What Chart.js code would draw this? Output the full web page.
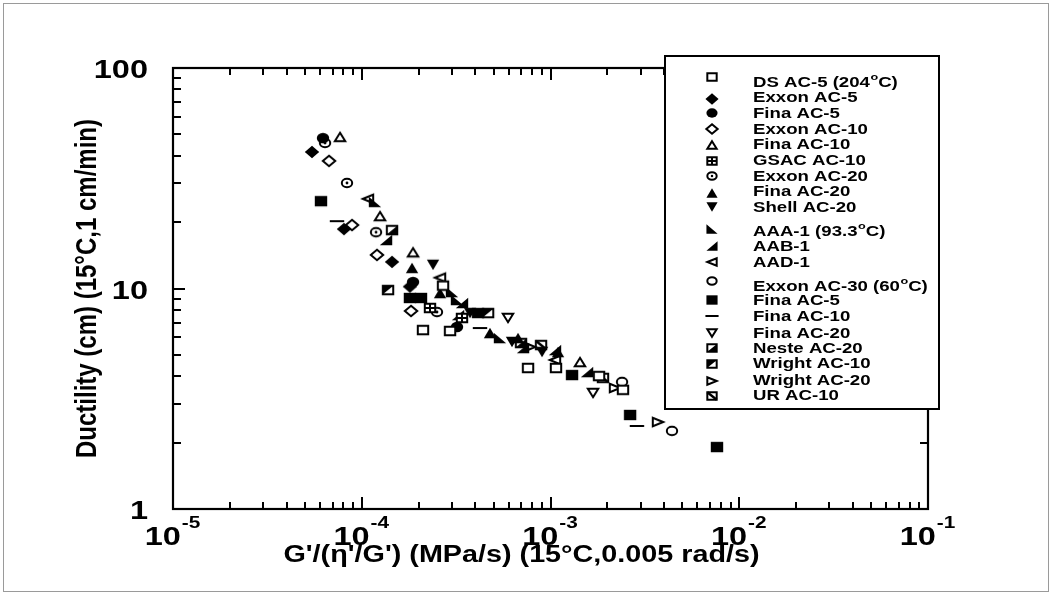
<!DOCTYPE html>
<html>
<head>
<meta charset="utf-8">
<script src="https://cdn.jsdelivr.net/npm/chart.js@4.4.1/dist/chart.umd.min.js"></script>
<style>
  html, body { margin: 0; padding: 0; background: #fff; }
  canvas { display: block; }
</style>
</head>
<body>
<canvas id="chart" width="1052" height="595"></canvas>
<script>
// Ductility vs. G'/(eta'/G') for aged binders, one array of [x, y] pairs per binder
const dsAC5      = [[2.695e-4,10.3],[2.11e-4,6.48],[2.935e-4,6.42],[7.6e-4,4.36],[1.069e-3,4.36],[1.807e-3,4.01],[2.42e-3,3.47]];
const exxonAC5   = [[5.45e-5,41.6],[8.05e-5,18.6],[1.447e-4,13.2],[1.80e-4,10.2]];
const finaAC5    = [[6.23e-5,48.1],[1.869e-4,10.7],[3.196e-4,6.69]];
const exxonAC10  = [[6.71e-5,37.9],[8.88e-5,19.4],[1.204e-4,14.2],[1.824e-4,7.91]];
const finaAC10   = [[7.67e-5,48.7],[1.25e-4,21.3],[1.869e-4,14.6],[1.433e-3,4.64]];
const gsacAC10   = [[2.299e-4,8.16],[3.397e-4,7.35]];
const exxonAC20  = [[6.39e-5,45.7],[8.35e-5,30.1],[1.19e-4,18.0],[2.504e-4,7.82]];
const finaAC20   = [[1.846e-4,12.4],[2.598e-4,9.54],[4.78e-4,6.28],[6.73e-4,5.96],[1.096e-3,5.15]];
const shellAC20  = [[2.385e-4,12.8],[3.746e-4,7.74],[6.25e-4,5.72],[9.02e-4,5.15]];
const aaa1       = [[1.175e-4,24.7],[3.007e-4,9.64],[3.196e-4,8.87],[5.40e-4,5.96]];
const aab1       = [[1.345e-4,16.6],[3.397e-4,8.60],[3.236e-4,7.58],[7.15e-4,5.37],[1.056e-3,5.26],[1.561e-3,4.18]];
const aad1       = [[1.079e-4,25.5],[2.598e-4,11.2],[1.056e-3,4.74]];
const exxonAC30  = [[2.393e-3,3.77],[4.40e-3,2.26]];
const finaAC5b   = [[6.08e-5,24.9],[1.80e-4,9.06],[2.06e-4,9.06],[4.13e-4,7.74],[1.30e-3,4.05],[2.64e-3,2.67],[7.62e-3,1.91]];
const finaAC10b  = [[7.39e-5,20.2],[4.23e-4,6.62],[2.87e-3,2.38]];
const finaAC20b  = [[5.95e-4,7.35],[1.68e-3,3.36]];
const nesteAC20  = [[1.447e-4,18.4],[6.98e-4,5.66]];
const wrightAC10 = [[1.378e-4,9.84],[4.67e-4,7.74]];
const wrightAC20 = [[7.79e-4,5.43],[2.196e-3,3.54],[3.71e-3,2.48]];
const urAC10     = [[8.91e-4,5.54],[1.897e-3,3.93]];

const seriesNames = ['DS AC-5 (204°C)','Exxon AC-5','Fina AC-5','Exxon AC-10','Fina AC-10','GSAC AC-10',
  'Exxon AC-20','Fina AC-20','Shell AC-20','AAA-1 (93.3°C)','AAB-1','AAD-1','Exxon AC-30 (60°C)',
  'Fina AC-5','Fina AC-10','Fina AC-20','Neste AC-20','Wright AC-10','Wright AC-20','UR AC-10'];
const seriesData = [dsAC5, exxonAC5, finaAC5, exxonAC10, finaAC10, gsacAC10, exxonAC20, finaAC20, shellAC20,
  aaa1, aab1, aad1, exxonAC30, finaAC5b, finaAC10b, finaAC20b, nesteAC20, wrightAC10, wrightAC20, urAC10];

// axis range and labelled decades
const xMin = 1e-5, xMax = 1e-1, yMin = 1, yMax = 100;
const xTickExponents = ['-5','-4','-3','-2','-1'];
const xTickValues = [1e-5, 1e-4, 1e-3, 1e-2, 1e-1];
const yTickLabels = ['1','10','100'];
const yTickValues = [1, 10, 100];

const xTitle = "G'/(\u03b7'/G') (MPa/s) (15°C,0.005 rad/s)";
const yTitle = 'Ductility (cm) (15°C,1 cm/min)';

// ---- marker glyphs ----
const markerKinds = ['sqOpen','diaFill','cirFill','diaOpen','triUpOpen','sqGrid','cirDot','triUpFill','triDnFill',
  'cornerBL','cornerBR','triLOpen','cirOpen','sqFill','dash','triDnOpen','sqHalfBR','sqHalfTL','triROpen','sqSlash'];

function drawMarker(g, kind, cx, cy, k) {
  const A = 6.2 * k, B = 5.2 * k;   // filled marks
  const a = 5.2 * k, b = 4.2 * k;   // outlined marks (2px stroke)
  g.save();
  g.lineWidth = 2; g.strokeStyle = '#000'; g.fillStyle = '#000'; g.lineJoin = 'miter';
  const poly = pts => { g.beginPath(); pts.forEach((p, i) => i ? g.lineTo(cx + p[0], cy + p[1]) : g.moveTo(cx + p[0], cy + p[1])); g.closePath(); };
  const openFill = () => { g.fillStyle = '#fff'; g.fill(); g.stroke(); g.fillStyle = '#000'; };
  const openSq = () => { poly([[-a,-b],[a,-b],[a,b],[-a,b]]); openFill(); };
  switch (kind) {
    case 'sqOpen': openSq(); break;
    case 'sqFill': g.fillRect(cx - A, cy - B, 2 * A, 2 * B); break;
    case 'diaFill': poly([[0,-B-1],[A+1,0],[0,B+1],[-A-1,0]]); g.fill(); break;
    case 'diaOpen': poly([[0,-b-1],[a+1,0],[0,b+1],[-a-1,0]]); openFill(); break;
    case 'cirFill': g.beginPath(); g.ellipse(cx, cy, A, B, 0, 0, Math.PI * 2); g.fill(); break;
    case 'cirOpen': g.beginPath(); g.ellipse(cx, cy, a, b, 0, 0, Math.PI * 2); openFill(); break;
    case 'cirDot':
      g.beginPath(); g.ellipse(cx, cy, a, b, 0, 0, Math.PI * 2); openFill();
      g.beginPath(); g.arc(cx, cy, 1.4 * k, 0, Math.PI * 2); g.fill(); break;
    case 'triUpFill': poly([[0,-B],[A,B],[-A,B]]); g.fill(); break;
    case 'triUpOpen': poly([[0,-b],[a,b],[-a,b]]); openFill(); break;
    case 'triDnFill': poly([[0,B],[A,-B],[-A,-B]]); g.fill(); break;
    case 'triDnOpen': poly([[0,b],[a,-b],[-a,-b]]); openFill(); break;
    case 'triLOpen': poly([[-a,0],[a,-b],[a,b]]); openFill(); break;
    case 'triROpen': poly([[a,0],[-a,-b],[-a,b]]); openFill(); break;
    case 'cornerBL': poly([[-A,-B],[-A,B],[A,B]]); g.fill(); break;
    case 'cornerBR': poly([[-A,B],[A,B],[A,-B]]); g.fill(); break;
    case 'sqGrid':
      openSq(); g.beginPath(); g.moveTo(cx - a, cy); g.lineTo(cx + a, cy); g.moveTo(cx, cy - b); g.lineTo(cx, cy + b); g.stroke(); break;
    case 'sqHalfBR': openSq(); poly([[-a,b],[a,b],[a,-b]]); g.fill(); break;
    case 'sqHalfTL': openSq(); poly([[-a,-b],[a,-b],[-a,b]]); g.fill(); break;
    case 'sqSlash':
      openSq(); g.beginPath(); g.moveTo(cx - a, cy - b); g.lineTo(cx + a, cy + b); g.lineWidth = 2.4; g.stroke(); break;
    case 'dash':
      g.beginPath(); g.moveTo(cx - A - 1, cy); g.lineTo(cx + A + 1, cy); g.stroke(); break;
  }
  g.restore();
}

function markerCanvas(kind) {
  const c = document.createElement('canvas');
  c.width = 18; c.height = 16;
  drawMarker(c.getContext('2d'), kind, 9, 8, 1);
  return c;
}

// ---- text helpers (the lettering is set wide) ----
const FONT = '"Liberation Sans", Arial, Helvetica, sans-serif';
function wideText(ctx, str, x, y, size, sx, align) {
  ctx.save();
  ctx.font = 'bold ' + size + 'px ' + FONT;
  ctx.textBaseline = 'middle';
  ctx.textAlign = 'left';
  const w = ctx.measureText(str).width * sx;
  let x0 = x;
  if (align === 'center') x0 = x - w / 2; else if (align === 'right') x0 = x - w;
  ctx.translate(x0, y); ctx.scale(sx, 1);
  ctx.fillText(str, 0, 0);
  ctx.restore();
  return w;
}
// label whose degree sign is set as a raised small "o"
function degreeText(ctx, str, x, y, size, sx) {
  const parts = str.split('°');
  let cx = x;
  parts.forEach((p, i) => {
    if (i > 0) cx += wideText(ctx, 'o', cx + 0.5, y - size * 0.42, size * 0.68, sx, 'left') + 0.5;
    cx += wideText(ctx, p, cx, y, size, sx, 'left');
  });
}

// ---- axes frame, inward ticks, tick labels, titles and key ----
const framePlugin = {
  id: 'frame',
  afterDatasetsDraw(chart) {
    const { ctx, chartArea: ca, scales: { x, y } } = chart;
    ctx.save();
    // thin outer border of the figure
    ctx.strokeStyle = '#9a9a9a'; ctx.lineWidth = 1;
    ctx.strokeRect(3.5, 3.5, chart.width - 7, chart.height - 7);

    ctx.strokeStyle = '#000'; ctx.fillStyle = '#000'; ctx.lineWidth = 2;
    const seg = (x1, y1, x2, y2) => { ctx.beginPath(); ctx.moveTo(x1, y1); ctx.lineTo(x2, y2); ctx.stroke(); };

    // ticks on all four sides
    for (let d = 0; d < xTickValues.length; d++) {
      for (let m = 1; m <= 9; m++) {
        const v = xTickValues[d] * m;
        if (v > xMax * 1.0001) break;
        const px = Math.round(x.getPixelForValue(v));
        const len = m === 1 ? 12 : 7;
        seg(px, ca.bottom, px, ca.bottom - len);
        seg(px, ca.top, px, ca.top + len);
      }
    }
    for (let d = 0; d < yTickValues.length; d++) {
      for (let m = 1; m <= 9; m++) {
        const v = yTickValues[d] * m;
        if (v > yMax * 1.0001) break;
        const py = Math.round(y.getPixelForValue(v));
        const len = m === 1 ? 12 : 8;
        seg(ca.left, py, ca.left + len, py);
        seg(ca.right, py, ca.right - len, py);
      }
    }
    ctx.lineWidth = 2.2;
    ctx.strokeRect(ca.left, ca.top, ca.right - ca.left, ca.bottom - ca.top);

    // y tick labels
    yTickValues.forEach((v, i) => {
      wideText(ctx, yTickLabels[i], ca.left - 25, y.getPixelForValue(v) + 3, 26, 1.25, 'right');
    });
    // x tick labels: 10 with a raised exponent
    xTickValues.forEach((v, i) => {
      const px = x.getPixelForValue(v);
      ctx.save();
      ctx.font = 'bold 25px ' + FONT;
      const wBase = ctx.measureText('10').width * 1.3;
      ctx.font = 'bold 16px ' + FONT;
      const wExp = ctx.measureText(xTickExponents[i]).width * 1.3;
      ctx.restore();
      const x0 = px - (wBase + wExp) / 2 - 1;
      wideText(ctx, '10', x0, ca.bottom + 29, 25, 1.3, 'left');
      wideText(ctx, xTickExponents[i], x0 + wBase + 1, ca.bottom + 15, 16, 1.3, 'left');
    });

    // axis titles
    wideText(ctx, xTitle, (ca.left + ca.right) / 2 - 29, ca.bottom + 47, 23, 1.25, 'center');
    ctx.save();
    ctx.translate(88, (ca.top + ca.bottom) / 2);
    ctx.rotate(-Math.PI / 2);
    ctx.scale(1, 1.25);
    ctx.font = 'bold 24px ' + FONT;
    ctx.textAlign = 'center'; ctx.textBaseline = 'middle';
    ctx.fillText(yTitle, 0, 0);
    ctx.restore();

    // key box
    const box = { l: 665, t: 56, r: 939, b: 409 };
    ctx.fillStyle = '#fff';
    ctx.fillRect(box.l, box.t, box.r - box.l, box.b - box.t);
    ctx.lineWidth = 2; ctx.strokeStyle = '#000';
    ctx.strokeRect(box.l, box.t, box.r - box.l, box.b - box.t);
    ctx.fillStyle = '#000';
    const textY   = [82, 97, 113, 129, 144.5, 160, 176, 191.5, 207, 231, 246, 262, 286, 300, 316, 333, 348, 363.5, 380, 395.5];
    const markerY = [77, 99, 113, 129, 145, 161, 176, 193, 207, 229, 246, 262, 281, 300, 316, 333, 348, 364, 381, 396];
    seriesNames.forEach((name, i) => {
      drawMarker(ctx, markerKinds[i], 712, markerY[i], 0.9);
      degreeText(ctx, name, 753, textY[i] + 1, 14, 1.33);
    });
    ctx.restore();
  }
};

const datasets = seriesData.map((pts, i) => ({
  label: seriesNames[i],
  data: pts.map(p => ({ x: p[0], y: p[1] })),
  pointStyle: markerCanvas(markerKinds[i]),
  pointRadius: 6,
  showLine: false
}));

new Chart(document.getElementById('chart'), {
  type: 'scatter',
  data: { datasets },
  options: {
    responsive: false,
    animation: false,
    events: [],
    layout: { padding: { left: 173, top: 68, right: 124, bottom: 86 } },
    plugins: { legend: { display: false }, tooltip: { enabled: false } },
    scales: {
      x: { type: 'logarithmic', min: xMin, max: xMax, display: false },
      y: { type: 'logarithmic', min: yMin, max: yMax, display: false }
    }
  },
  plugins: [framePlugin]
});
</script>
</body>
</html>
